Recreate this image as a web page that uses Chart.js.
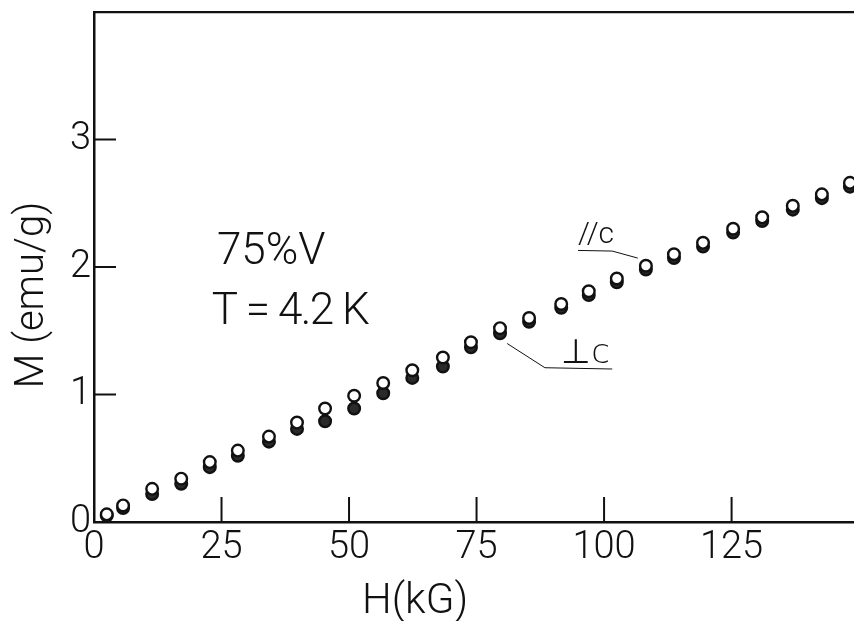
<!DOCTYPE html>
<html>
<head>
<meta charset="utf-8">
<title>M vs H, 75% V, T = 4.2 K</title>
<script src="https://cdn.jsdelivr.net/npm/chart.js@4.4.1/dist/chart.umd.min.js"></script>
<style>
  html, body { margin: 0; padding: 0; background: #fff; overflow: hidden; }
  #wrap { width: 854px; height: 621px; }
</style>
</head>
<body>
<div id="wrap"><canvas id="mhChart" width="854" height="621"></canvas></div>
<script>
// Field values H (kG)
const fieldH = [2.5, 5.7, 11.4, 17.1, 22.7, 28.2, 34.3, 39.8, 45.3, 51.0, 56.7, 62.4, 68.4,
  73.9, 79.6, 85.3, 91.6, 97.0, 102.5, 108.2, 113.7, 119.4, 125.3, 131.0, 137.0, 142.7, 148.2];

// Magnetization M (emu/g), H parallel to c (open circles)
const mParallel = [0.06, 0.13, 0.26, 0.34, 0.47, 0.56, 0.67, 0.78, 0.89, 0.99, 1.09, 1.19, 1.29,
  1.41, 1.52, 1.60, 1.71, 1.81, 1.91, 2.01, 2.10, 2.19, 2.30, 2.39, 2.48, 2.57, 2.66];

// Magnetization M (emu/g), H perpendicular to c (filled circles)
const mPerp = [0.05, 0.11, 0.22, 0.30, 0.43, 0.52, 0.63, 0.73, 0.79, 0.89, 1.01, 1.13, 1.22,
  1.37, 1.48, 1.57, 1.68, 1.78, 1.88, 1.98, 2.07, 2.16, 2.27, 2.36, 2.45, 2.54, 2.63];

// Tick labels
const xTicks = [0, 25, 50, 75, 100, 125];
const yTicks = [0, 1, 2, 3];

const INK = "#111";
const FONT = "Roboto, 'Open Sans', 'DejaVu Sans', sans-serif";

function toPoints(xs, ys) {
  return xs.map((x, i) => ({ x: x, y: ys[i] }));
}

function noPadding(scale) {
  scale.paddingTop = 0;
  scale.paddingBottom = 0;
  scale.paddingLeft = 0;
  scale.paddingRight = 0;
}

// Inner tick marks, axis titles and the figure annotations
const figureDecor = {
  id: "figureDecor",
  afterDraw(chart) {
    const ctx = chart.ctx;
    const xs = chart.scales.x;
    const ys = chart.scales.y;
    const area = chart.chartArea;

    ctx.save();
    ctx.strokeStyle = INK;
    ctx.fillStyle = INK;
    ctx.lineWidth = 2;

    // ticks pointing into the plot
    xTicks.forEach((v) => {
      if (v === 0) return;
      const px = xs.getPixelForValue(v);
      ctx.beginPath();
      ctx.moveTo(px, area.bottom);
      ctx.lineTo(px, area.bottom - 25);
      ctx.stroke();
    });
    yTicks.forEach((v) => {
      if (v === 0) return;
      const py = ys.getPixelForValue(v);
      ctx.beginPath();
      ctx.moveTo(area.left, py);
      ctx.lineTo(area.left + 22, py);
      ctx.stroke();
    });

    // axis titles
    ctx.font = "300 42px " + FONT;
    ctx.textAlign = "center";
    ctx.textBaseline = "alphabetic";
    ctx.fillText("H(kG)", 415, 613);

    ctx.save();
    ctx.translate(43, 295);
    ctx.rotate(-Math.PI / 2);
    ctx.font = "300 40px " + FONT;
    ctx.fillText("M (emu/g)", 0, 0);
    ctx.restore();

    // sample / temperature labels
    ctx.textAlign = "left";
    ctx.font = "300 44px " + FONT;
    ctx.fillText("75%V", xs.getPixelForValue(24.1), ys.getPixelForValue(2.02));
    ctx.letterSpacing = "-1.5px";
    ctx.fillText("T = 4.2 K", xs.getPixelForValue(23.1), ys.getPixelForValue(1.555));
    ctx.letterSpacing = "0px";

    // //c label with leader to the open circle at 108 kG
    ctx.font = "300 30px " + FONT;
    ctx.fillText("//c", xs.getPixelForValue(94.9), ys.getPixelForValue(2.19));
    ctx.lineWidth = 1;
    ctx.beginPath();
    ctx.moveTo(xs.getPixelForValue(94.9), ys.getPixelForValue(2.13));
    ctx.lineTo(xs.getPixelForValue(101.6), ys.getPixelForValue(2.125));
    ctx.lineTo(xs.getPixelForValue(106.6), ys.getPixelForValue(2.07));
    ctx.stroke();

    // ⊥c label with leader to the filled circle at 80 kG
    ctx.font = "300 34px 'DejaVu Sans', " + FONT;
    ctx.fillText("⊥c", xs.getPixelForValue(91.6), ys.getPixelForValue(1.25));
    ctx.beginPath();
    ctx.moveTo(xs.getPixelForValue(101.6), ys.getPixelForValue(1.20));
    ctx.lineTo(xs.getPixelForValue(88.4), ys.getPixelForValue(1.21));
    ctx.lineTo(xs.getPixelForValue(81.0), ys.getPixelForValue(1.40));
    ctx.stroke();

    ctx.restore();
  },
};

new Chart(document.getElementById("mhChart"), {
  type: "scatter",
  data: {
    datasets: [
      {
        label: "//c",
        data: toPoints(fieldH, mParallel),
        pointRadius: 5.8,
        pointBorderWidth: 2.4,
        pointBackgroundColor: "#fff",
        pointBorderColor: INK,
        clip: false,
      },
      {
        label: "⊥c",
        data: toPoints(fieldH, mPerp),
        pointRadius: 5.8,
        pointBorderWidth: 2.4,
        pointBackgroundColor: "#2a2a2a",
        pointBorderColor: INK,
        clip: false,
      },
    ],
  },
  options: {
    responsive: false,
    animation: false,
    devicePixelRatio: 1,
    layout: { autoPadding: false, padding: { top: 12, right: 0, left: 0, bottom: 0 } },
    plugins: {
      legend: { display: false },
      tooltip: { enabled: false },
    },
    scales: {
      x: {
        type: "linear",
        min: 0,
        max: 149,
        afterBuildTicks: (scale) => {
          scale.ticks = xTicks.map((v) => ({ value: v }));
        },
        afterFit: (scale) => {
          scale.height = 99;
          noPadding(scale);
        },
        grid: { display: false, drawTicks: false },
        border: { display: true, color: INK, width: 2.5 },
        ticks: {
          color: INK,
          padding: 4,
          maxRotation: 0,
          autoSkip: false,
          font: { family: FONT, size: 38, weight: "300" },
        },
      },
      x2: {
        type: "linear",
        position: "top",
        min: 0,
        max: 149,
        afterFit: (scale) => {
          scale.height = 0;
          noPadding(scale);
        },
        grid: { display: false, drawTicks: false },
        border: { display: true, color: INK, width: 2.2 },
        ticks: { display: false },
      },
      y: {
        type: "linear",
        min: 0,
        max: 4,
        afterBuildTicks: (scale) => {
          scale.ticks = yTicks.map((v) => ({ value: v }));
        },
        afterFit: (scale) => {
          scale.width = 94;
          noPadding(scale);
        },
        grid: { display: false, drawTicks: false },
        border: { display: true, color: INK, width: 2.5 },
        ticks: {
          color: INK,
          padding: 3,
          autoSkip: false,
          font: { family: FONT, size: 38, weight: "300" },
        },
      },
    },
  },
  plugins: [figureDecor],
});
</script>
</body>
</html>
